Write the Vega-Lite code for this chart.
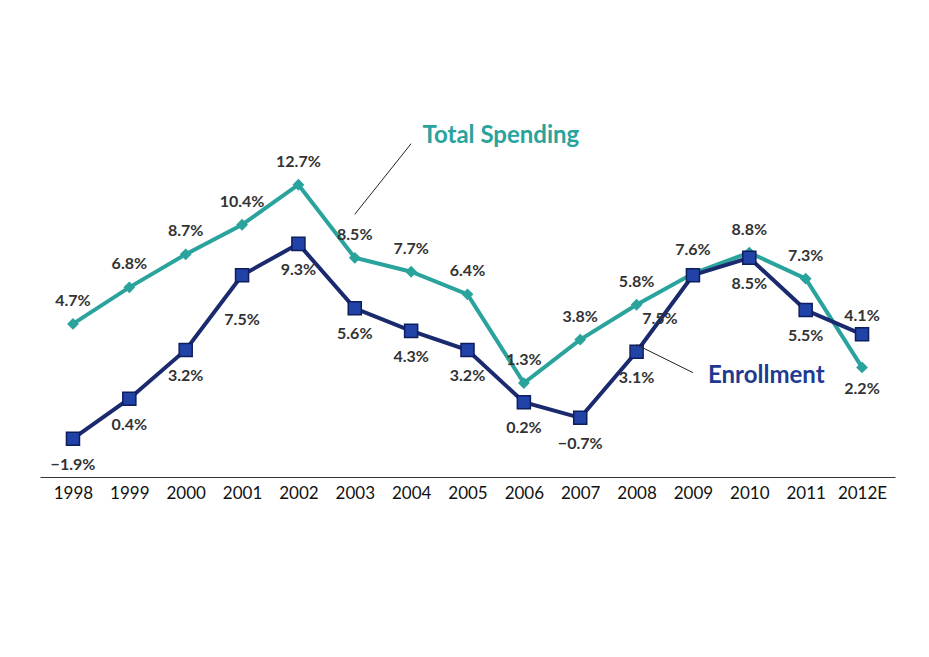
{
"$schema":"https://vega.github.io/schema/vega-lite/v6.json",
"width":855,"height":377,"autosize":"none",
"padding":{"left":40,"top":100,"right":34,"bottom":180},
"background":"white",
"config":{"view":{"stroke":null},"font":"Lato"},
"datasets":{
"main":[
{"year":"1998","series":"Total Spending","value":4.7},{"year":"1999","series":"Total Spending","value":6.8},{"year":"2000","series":"Total Spending","value":8.7},{"year":"2001","series":"Total Spending","value":10.4},{"year":"2002","series":"Total Spending","value":12.7},{"year":"2003","series":"Total Spending","value":8.5},{"year":"2004","series":"Total Spending","value":7.7},{"year":"2005","series":"Total Spending","value":6.4},{"year":"2006","series":"Total Spending","value":1.3},{"year":"2007","series":"Total Spending","value":3.8},{"year":"2008","series":"Total Spending","value":5.8},{"year":"2009","series":"Total Spending","value":7.6},{"year":"2010","series":"Total Spending","value":8.8},{"year":"2011","series":"Total Spending","value":7.3},{"year":"2012E","series":"Total Spending","value":2.2},
{"year":"1998","series":"Enrollment","value":-1.9},{"year":"1999","series":"Enrollment","value":0.4},{"year":"2000","series":"Enrollment","value":3.2},{"year":"2001","series":"Enrollment","value":7.5},{"year":"2002","series":"Enrollment","value":9.3},{"year":"2003","series":"Enrollment","value":5.6},{"year":"2004","series":"Enrollment","value":4.3},{"year":"2005","series":"Enrollment","value":3.2},{"year":"2006","series":"Enrollment","value":0.2},{"year":"2007","series":"Enrollment","value":-0.7},{"year":"2008","series":"Enrollment","value":3.1},{"year":"2009","series":"Enrollment","value":7.5},{"year":"2010","series":"Enrollment","value":8.5},{"year":"2011","series":"Enrollment","value":5.5},{"year":"2012E","series":"Enrollment","value":4.1}
],
"arrows":[
{"x":"2004","x2":"2003","y":15.06,"y2":11.0},
{"x":"2009","x2":"2008","y":1.9,"y2":3.5}
],
"notes":[
{"x":"2006","y":15.5,"label":"Total Spending","color":"#2aa39d"},
{"x":"2010","y":1.7,"label":"Enrollment","color":"#1f3a93"}
]},
"encoding":{
"x":{"field":"year","type":"ordinal","scale":{"type":"point","padding":0.585},
"axis":{"title":null,"labelAngle":0,"labelFontSize":17,"labelColor":"#111","labelFont":"Lato","domainColor":"#333","domainWidth":1,"ticks":false,"labelPadding":8,"orient":"bottom"}},
"y":{"field":"value","type":"quantitative","scale":{"domain":[-4.1,17.57],"nice":false,"zero":false},"axis":null}
},
"layer":[
{"data":{"name":"main"},"transform":[{"filter":"datum.series=='Total Spending'"}],"mark":{"type":"line","color":"#2aa39d","strokeWidth":4}},
{"data":{"name":"main"},"transform":[{"filter":"datum.series=='Enrollment'"}],"mark":{"type":"line","color":"#1b2a6e","strokeWidth":4}},
{"data":{"name":"main"},"transform":[{"filter":"datum.series=='Total Spending'"}],"mark":{"type":"point","shape":"diamond","filled":true,"size":140,"color":"#2aa39d","opacity":1}},
{"data":{"name":"main"},"transform":[{"filter":"datum.series=='Enrollment'"}],"mark":{"type":"square","size":170,"color":"#2143a8","stroke":"#0e1d5c","strokeWidth":1.5,"opacity":1}},
{"data":{"name":"main"},"transform":[{"filter":"datum.series=='Total Spending' && datum.year!='2012E'"},{"calculate":"format(datum.value,'.1f')+'%'","as":"lab"}],"mark":{"type":"text","dy":-23,"fontSize":16,"fontWeight":"bold","color":"#333"},"encoding":{"text":{"field":"lab"}}},
{"data":{"name":"main"},"transform":[{"filter":"datum.series=='Total Spending' && datum.year=='2012E'"},{"calculate":"format(datum.value,'.1f')+'%'","as":"lab"}],"mark":{"type":"text","dy":22,"fontSize":16,"fontWeight":"bold","color":"#333"},"encoding":{"text":{"field":"lab"}}},
{"data":{"name":"main"},"transform":[{"filter":"datum.series=='Enrollment' && indexof(['2001','2009','2012E'],datum.year)<0"},{"calculate":"format(datum.value,'.1f')+'%'","as":"lab"}],"mark":{"type":"text","dy":26,"fontSize":16,"fontWeight":"bold","color":"#333"},"encoding":{"text":{"field":"lab"}}},
{"data":{"name":"main"},"transform":[{"filter":"datum.series=='Enrollment' && datum.year=='2001'"},{"calculate":"format(datum.value,'.1f')+'%'","as":"lab"}],"mark":{"type":"text","dy":45,"fontSize":16,"fontWeight":"bold","color":"#333"},"encoding":{"text":{"field":"lab"}}},
{"data":{"name":"main"},"transform":[{"filter":"datum.series=='Enrollment' && datum.year=='2009'"},{"calculate":"format(datum.value,'.1f')+'%'","as":"lab"}],"mark":{"type":"text","dy":44,"dx":-33,"fontSize":16,"fontWeight":"bold","color":"#333"},"encoding":{"text":{"field":"lab"}}},
{"data":{"name":"main"},"transform":[{"filter":"datum.series=='Enrollment' && datum.year=='2012E'"},{"calculate":"format(datum.value,'.1f')+'%'","as":"lab"}],"mark":{"type":"text","dy":-18,"fontSize":16,"fontWeight":"bold","color":"#333"},"encoding":{"text":{"field":"lab"}}},
{"data":{"name":"arrows"},"mark":{"type":"rule","color":"#222","strokeWidth":1},"encoding":{"x":{"field":"x","type":"ordinal"},"x2":{"field":"x2"},"y":{"field":"y","type":"quantitative"},"y2":{"field":"y2"}}},
{"data":{"name":"notes"},"transform":[{"filter":"datum.label=='Total Spending'"}],"mark":{"type":"text","fontSize":24,"fontWeight":"bold","dx":-23},"encoding":{"x":{"field":"x","type":"ordinal"},"y":{"field":"y","type":"quantitative"},"text":{"field":"label"},"color":{"field":"color","type":"nominal","scale":null}}},
{"data":{"name":"notes"},"transform":[{"filter":"datum.label=='Enrollment'"}],"mark":{"type":"text","fontSize":24,"fontWeight":"bold","dx":17},"encoding":{"x":{"field":"x","type":"ordinal"},"y":{"field":"y","type":"quantitative"},"text":{"field":"label"},"color":{"field":"color","type":"nominal","scale":null}}}
]
}
